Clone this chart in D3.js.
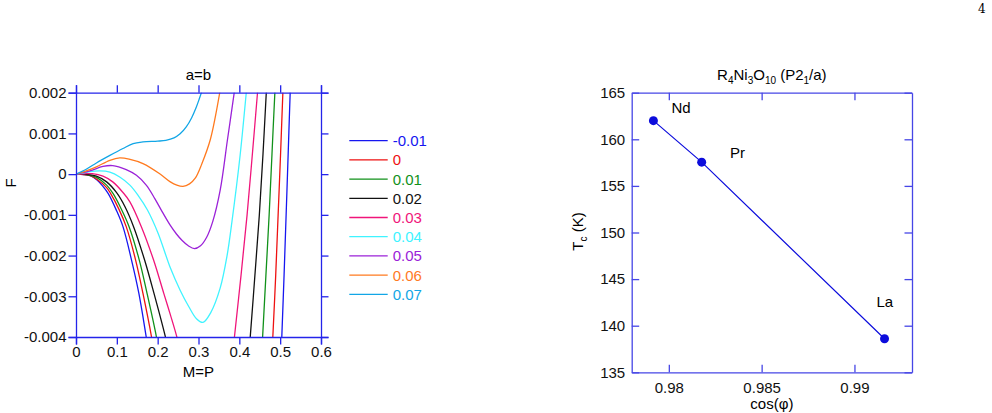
<!DOCTYPE html>
<html>
<head>
<meta charset="utf-8">
<script src="https://cdn.jsdelivr.net/npm/d3@7"></script>
<style>
  body { margin: 0; background: #fff; }
  svg { font-family: "Liberation Sans", Arial, sans-serif; }
</style>
</head>
<body>
<svg id="chart" width="992" height="413"></svg>
<script>
// ---- left panel data: F vs M=P for different parameter values ----
var seriesLabels = ["-0.01", "0", "0.01", "0.02", "0.03", "0.04", "0.05", "0.06", "0.07"];
var seriesColors = ["#1616f0", "#ee1111", "#11911a", "#111111", "#f0157a", "#3ff3ff", "#9b22d8", "#ff7a1f", "#12a6e6"];

// each series: list of segments, each segment a list of [M, F]
var curveM01 = [
  [[0,0],[0.02,-0.00001],[0.035,-0.00004],[0.05,-0.00013],[0.065,-0.00029],[0.079,-0.00048],[0.099,-0.00089],[0.115,-0.00129],[0.136,-0.00211],[0.154,-0.00293],[0.172,-0.0040],[0.18,-0.0045]],
  [[0.5025,-0.0044],[0.504,-0.0040],[0.5095,-0.0025],[0.5146,-0.0010],[0.5196,0.0005],[0.5245,0.0020],[0.5257,0.0023]]
];
var curve000 = [
  [[0,0],[0.02,-0.00001],[0.035,-0.00004],[0.05,-0.00012],[0.075,-0.00033],[0.085,-0.00048],[0.105,-0.00086],[0.123,-0.00129],[0.146,-0.00211],[0.164,-0.00293],[0.185,-0.0040],[0.193,-0.0045]],
  [[0.480,-0.0044],[0.482,-0.0040],[0.489,-0.0025],[0.495,-0.0010],[0.501,0.0005],[0.5066,0.0020],[0.508,0.0023]]
];
var curve001 = [
  [[0,0],[0.025,-0.00001],[0.05,-0.00008],[0.075,-0.00027],[0.091,-0.00048],[0.112,-0.00088],[0.130,-0.00129],[0.155,-0.00211],[0.174,-0.00293],[0.197,-0.0040],[0.205,-0.0045]],
  [[0.455,-0.0044],[0.457,-0.0040],[0.465,-0.0025],[0.473,-0.0010],[0.480,0.0005],[0.487,0.0020],[0.489,0.0023]]
];
var curve002 = [
  [[0,0],[0.025,-0.000005],[0.05,-0.00005],[0.075,-0.00019],[0.099,-0.00045],[0.12,-0.0008],[0.141,-0.00129],[0.168,-0.00211],[0.191,-0.00293],[0.219,-0.0040],[0.228,-0.0044]],
  [[0.423,-0.0044],[0.4267,-0.0040],[0.438,-0.0025],[0.449,-0.0010],[0.458,0.0005],[0.466,0.0020],[0.468,0.0023]]
];
var curve003 = [
  [[0,0],[0.02,0.00001],[0.04,0.00001],[0.066,-0.00005],[0.09,-0.00019],[0.115,-0.00045],[0.132,-0.00068],[0.160,-0.00129],[0.190,-0.00211],[0.215,-0.00293],[0.231,-0.00345],[0.247,-0.0040],[0.256,-0.0044]],
  [[0.384,-0.0044],[0.388,-0.0040],[0.404,-0.0025],[0.419,-0.0010],[0.432,0.0005],[0.4445,0.0020],[0.447,0.0023]]
];
var curve004 = [
  [[0,0],[0.02,0.00003],[0.034,0.00006],[0.058,0.00008],[0.083,0.00005],[0.107,-0.00007],[0.132,-0.00027],[0.152,-0.00052],[0.175,-0.00088],[0.201,-0.00145],[0.231,-0.0023],[0.255,-0.00285],[0.276,-0.00325],[0.295,-0.00355],[0.311,-0.00364],[0.33,-0.0034],[0.353,-0.0028],[0.37,-0.0020],[0.382,-0.00116],[0.402,0.00047],[0.417,0.0020],[0.42,0.0023]]
];
var curve005 = [
  [[0,0],[0.034,0.00008],[0.066,0.00019],[0.09,0.00021],[0.123,0.00011],[0.148,-0.00003],[0.172,-0.00027],[0.193,-0.0006],[0.212,-0.00094],[0.231,-0.00126],[0.246,-0.00147],[0.26,-0.00163],[0.275,-0.00176],[0.29,-0.00183],[0.305,-0.00176],[0.32,-0.00155],[0.335,-0.00116],[0.353,-0.0004],[0.371,0.00085],[0.3875,0.0020],[0.39,0.0022]]
];
var curve006 = [
  [[0,0],[0.025,0.00008],[0.05,0.00018],[0.083,0.00034],[0.107,0.0004],[0.13,0.00037],[0.164,0.00026],[0.205,0.00001],[0.231,-0.00019],[0.247,-0.00027],[0.262,-0.0003],[0.278,-0.00024],[0.292,-0.0001],[0.308,0.00025],[0.329,0.00085],[0.352,0.0020],[0.355,0.0022]]
];
var curve007 = [
  [[0,0],[0.025,0.00012],[0.05,0.000275],[0.083,0.00046],[0.115,0.00063],[0.14,0.00075],[0.164,0.00079],[0.2,0.00081],[0.22,0.00083],[0.24,0.00089],[0.255,0.00099],[0.27,0.00116],[0.283,0.00138],[0.294,0.00163],[0.302,0.00185],[0.308,0.00203],[0.31,0.0021]]
];
var seriesData = [curveM01, curve000, curve001, curve002, curve003, curve004, curve005, curve006, curve007];

var xTicksL = [0, 0.1, 0.2, 0.3, 0.4, 0.5, 0.6];
var yTicksL = [-0.004, -0.003, -0.002, -0.001, 0, 0.001, 0.002];

// ---- right panel data: Tc vs cos(phi) ----
var elements = ["Nd", "Pr", "La"];
var cosPhi = [0.97917, 0.98177, 0.99162];
var tcValues = [162.0, 157.55, 138.6];
var xTicksR = [0.98, 0.985, 0.99];
var yTicksR = [135, 140, 145, 150, 155, 160, 165];

var svg = d3.select("#chart");

// page number
svg.append("text")
  .attr("x", 978).attr("y", 13)
  .style("font-family", "'DejaVu Serif', 'Liberation Serif', serif")
  .style("font-size", "12px")
  .text("4");

// ================= left panel =================
var xL = d3.scaleLinear().domain([0, 0.6]).range([76, 321]);
var yL = d3.scaleLinear().domain([-0.004, 0.002]).range([337, 92.7]);
var frameL = "#2424ea";
var fmtL = function(d) { return d === 0 ? "0" : String(+d.toFixed(3)); };

var gL = svg.append("g");

gL.append("clipPath").attr("id", "clipL")
  .append("rect")
  .attr("x", xL(0)).attr("y", yL(0.002))
  .attr("width", xL(0.6) - xL(0)).attr("height", yL(-0.004) - yL(0.002));

var line = d3.line()
  .x(function(d) { return xL(d[0]); })
  .y(function(d) { return yL(d[1]); })
  .curve(d3.curveCatmullRom.alpha(0.5));

var curves = gL.append("g").attr("clip-path", "url(#clipL)");
seriesData.forEach(function(segs, i) {
  segs.forEach(function(seg) {
    curves.append("path")
      .attr("d", line(seg))
      .attr("fill", "none")
      .attr("stroke", seriesColors[i])
      .attr("stroke-width", 1.3);
  });
});

function styleAxis(g, color) {
  g.selectAll("path").attr("stroke", color).attr("stroke-width", 1.3);
  g.selectAll("line").attr("stroke", color).attr("stroke-width", 1.3);
  g.selectAll("text").attr("fill", "#111").style("font-size", "15px")
    .style("font-family", "'Liberation Sans', Arial, sans-serif");
}

gL.append("g").attr("transform", "translate(0," + yL(-0.004) + ")")
  .call(d3.axisBottom(xL).tickValues(xTicksL).tickFormat(fmtL).tickSize(7.5).tickPadding(2))
  .call(styleAxis, frameL);
gL.append("g").attr("transform", "translate(0," + yL(0.002) + ")")
  .call(d3.axisTop(xL).tickValues(xTicksL).tickFormat("").tickSize(7.5))
  .call(styleAxis, frameL);
gL.append("g").attr("transform", "translate(" + xL(0) + ",0)")
  .call(d3.axisLeft(yL).tickValues(yTicksL).tickFormat(fmtL).tickSize(7.5).tickPadding(2))
  .call(styleAxis, frameL);
gL.append("g").attr("transform", "translate(" + xL(0.6) + ",0)")
  .call(d3.axisRight(yL).tickValues(yTicksL).tickFormat("").tickSize(7.5))
  .call(styleAxis, frameL);

gL.append("text")
  .attr("x", (xL(0) + xL(0.6)) / 2).attr("y", 80)
  .attr("text-anchor", "middle").style("font-size", "15px")
  .text("a=b");
gL.append("text")
  .attr("x", (xL(0) + xL(0.6)) / 2).attr("y", 377)
  .attr("text-anchor", "middle").style("font-size", "15px")
  .text("M=P");
gL.append("text")
  .attr("transform", "translate(16,183) rotate(-90)")
  .attr("text-anchor", "middle").style("font-size", "15px")
  .text("F");

// legend
var legend = gL.append("g");
seriesLabels.forEach(function(lab, i) {
  var yy = 140.7 + i * 19.2;
  legend.append("line")
    .attr("x1", 349.3).attr("x2", 387.7).attr("y1", yy).attr("y2", yy)
    .attr("stroke", seriesColors[i]).attr("stroke-width", 1.3);
  legend.append("text")
    .attr("x", 392.7).attr("y", yy + 5.5)
    .attr("fill", seriesColors[i]).style("font-size", "15px")
    .text(lab);
});

// ================= right panel =================
var xR = d3.scaleLinear().domain([0.978, 0.9931]).range([631.7, 912]);
var yR = d3.scaleLinear().domain([135, 165]).range([372.3, 92.7]);
var frameR = "#4646e6";
var blue = "#0c0cdc";
var gR = svg.append("g");

gR.append("g").attr("transform", "translate(0," + yR(135) + ")")
  .call(d3.axisBottom(xR).tickValues(xTicksR).tickFormat(function(d) { return String(+d.toFixed(3)); })
    .tickSizeInner(-7.5).tickSizeOuter(0).tickPadding(10.5))
  .call(styleAxis, frameR);
gR.append("g").attr("transform", "translate(0," + yR(165) + ")")
  .call(d3.axisTop(xR).tickValues(xTicksR).tickFormat("").tickSizeInner(-7.5).tickSizeOuter(0))
  .call(styleAxis, frameR);
gR.append("g").attr("transform", "translate(" + xR.range()[0] + ",0)")
  .call(d3.axisLeft(yR).tickValues(yTicksR).tickSizeInner(-7.5).tickSizeOuter(0).tickPadding(6.5))
  .call(styleAxis, frameR);
gR.append("g").attr("transform", "translate(" + xR.range()[1] + ",0)")
  .call(d3.axisRight(yR).tickValues(yTicksR).tickFormat("").tickSizeInner(-7.5).tickSizeOuter(0))
  .call(styleAxis, frameR);

var pts = cosPhi.map(function(c, i) { return [c, tcValues[i]]; });
gR.append("path")
  .attr("d", d3.line().x(function(d) { return xR(d[0]); }).y(function(d) { return yR(d[1]); })(pts))
  .attr("fill", "none").attr("stroke", blue).attr("stroke-width", 1.2);
gR.selectAll("circle.pt").data(pts).enter().append("circle")
  .attr("class", "pt")
  .attr("cx", function(d) { return xR(d[0]); })
  .attr("cy", function(d) { return yR(d[1]); })
  .attr("r", 4.5).attr("fill", blue);

// point labels
var labelPos = [[671.5, 113.3], [730, 158.3], [876.5, 306.7]];
elements.forEach(function(el, i) {
  gR.append("text")
    .attr("x", labelPos[i][0]).attr("y", labelPos[i][1])
    .style("font-size", "15px").text(el);
});

// title with subscripts
var title = gR.append("text")
  .attr("x", (xR.range()[0] + xR.range()[1]) / 2).attr("y", 79.5)
  .attr("text-anchor", "middle").style("font-size", "15px");
title.append("tspan").text("R");
title.append("tspan").attr("dy", 4).style("font-size", "10px").text("4");
title.append("tspan").attr("dy", -4).text("Ni");
title.append("tspan").attr("dy", 4).style("font-size", "10px").text("3");
title.append("tspan").attr("dy", -4).text("O");
title.append("tspan").attr("dy", 4).style("font-size", "10px").text("10");
title.append("tspan").attr("dy", -4).text(" (P2");
title.append("tspan").attr("dy", 4).style("font-size", "10px").text("1");
title.append("tspan").attr("dy", -4).text("/a)");

// y label T_c (K)
var ylab = gR.append("text")
  .attr("transform", "translate(583,231.5) rotate(-90)")
  .attr("text-anchor", "middle").style("font-size", "15px");
ylab.append("tspan").text("T");
ylab.append("tspan").attr("dy", 4).style("font-size", "10px").text("c");
ylab.append("tspan").attr("dy", -4).text(" (K)");

// x label near the bottom edge
gR.append("text")
  .attr("x", (xR.range()[0] + xR.range()[1]) / 2).attr("y", 409)
  .attr("text-anchor", "middle").style("font-size", "15px")
  .text("cos(\u03c6)");
</script>
</body>
</html>
